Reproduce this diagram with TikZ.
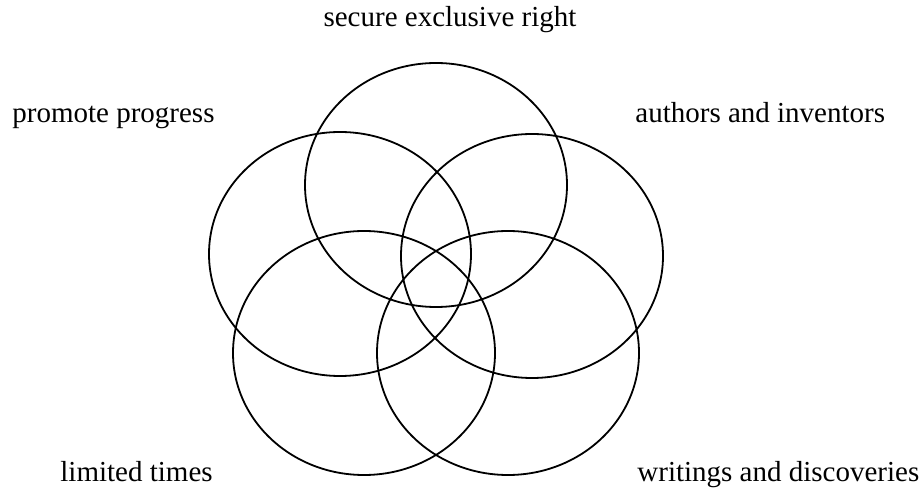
\documentclass[tikz,border=0pt]{standalone}
\usepackage{fontspec}
\setmainfont{Liberation Serif}
\usepackage{tikz}
\usetikzlibrary{shapes.geometric,positioning}

\begin{document}
\begin{tikzpicture}
      [ x=0.5pt, y=-0.5pt,
        ring/.style={ellipse, draw, line width=0.9pt, inner sep=0pt,
                     minimum width=131pt, minimum height=122pt},
        tag/.style={inner sep=0pt, anchor=base west,
                    font=\fontsize{14.5}{17}\selectfont}
      ]
      \useasboundingbox (0,0) rectangle (921,491);

      \node[ring]  (secure)   at (436,185) {};
      \node[ring]  (promote)  at (340,254) {};
      \node[ring]  (authors)  at (532,256) {};
      \node[ring]  (limited)  at (364,353) {};
      \node[ring]  (writings) at (508,353) {};

      \node[tag,anchor=base] (secureL)   at (450,27)  {secure exclusive right};
      \node[tag]             (promoteL)  at (12,123)  {promote progress};
      \node[tag]             (authorsL)  at (635,123) {authors and inventors};
      \node[tag]             (limitedL)  at (60,481)  {limited times};
      \node[tag]             (writingsL) at (637,481) {writings and discoveries};
    \end{tikzpicture}
\end{document}
